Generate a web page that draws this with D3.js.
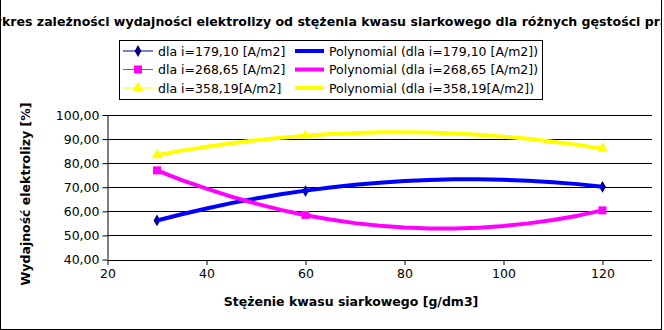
<!DOCTYPE html>
<html><head><meta charset="utf-8">
<script src="https://cdn.jsdelivr.net/npm/d3@7"></script>
<style>body{margin:0;background:#fff}svg{display:block}text{font-family:"DejaVu Sans",sans-serif}</style>
</head><body><svg id="c" width="664" height="330"></svg>
<script>
const titleText = "Wykres zależności wydajności elektrolizy od stężenia kwasu siarkowego dla różnych gęstości prądu";
const xTitle = "Stężenie kwasu siarkowego [g/dm3]";
const yTitle = "Wydajność elektrolizy [%]";
const xTicks = [20, 40, 60, 80, 100, 120];
const yTicks = [40, 50, 60, 70, 80, 90, 100];
const xValues = [30, 60, 120];
const s179 = [56.2, 68.4, 70.2];
const s268 = [77.0, 58.5, 60.4];
const s358 = [83.3, 91.4, 86.1];
const trendX = [30,35,40,45,50,55,60,65,70,75,80,85,90,95,100,105,110,115,120];
const t179 = [56.2,58.8,61.2,63.4,65.3,67.1,68.6,69.9,71.0,71.9,72.6,73.0,73.3,73.3,73.1,72.7,72.1,71.3,70.2];
const t268 = [77.0,73.0,69.4,66.1,63.2,60.6,58.4,56.6,55.1,54.0,53.3,52.9,52.9,53.2,53.9,55.0,56.4,58.2,60.4];
const t358 = [83.3,85.2,86.8,88.3,89.5,90.6,91.4,92.1,92.5,92.8,92.8,92.7,92.3,91.8,91.0,90.1,88.9,87.6,86.0];
const seriesNames = ["dla i=179,10 [A/m2]", "dla i=268,65 [A/m2]", "dla i=358,19[A/m2]"];

const svg = d3.select("#c");
const x = d3.scaleLinear().domain([20, 130]).range([107.5, 652]);
const y = d3.scaleLinear().domain([40, 100]).range([259.5, 115]);

// border
svg.append("rect").attr("x",0.5).attr("y",-2).attr("width",661).attr("height",331.5)
  .attr("fill","none").attr("stroke","#000");

// title (clipped by the chart frame, as in the original)
svg.append("clipPath").attr("id","tc").append("rect").attr("x",1).attr("y",0).attr("width",660).attr("height",60);
const title = svg.append("text").attr("clip-path","url(#tc)").attr("x",0).attr("y",26)
  .attr("font-weight","bold").attr("font-size","12.5px").text(titleText);
{
  const node = title.node();
  const startIdx = 2; // visible part starts at "kres"
  const endIdx = titleText.indexOf("prądu") + 2; // visible part ends after "pr"
  const pre = node.getSubStringLength(0, startIdx);
  const mid = node.getSubStringLength(startIdx, endIdx - startIdx);
  const k = 659 / mid;
  title.attr("font-size", (12.5 * k) + "px").attr("x", 2 - pre * k);
}

// grid
svg.append("g").selectAll("line").data(yTicks.slice(1)).join("line")
  .attr("x1",x(20)).attr("x2",x(130)).attr("y1",d=>Math.round(y(d))+0.5).attr("y2",d=>Math.round(y(d))+0.5)
  .attr("stroke","#000");

// axes
const fmt = d => d3.format(".2f")(d).replace(".", ",");
const ya = svg.append("g").attr("transform",`translate(${x(20)},0)`)
  .call(d3.axisLeft(y).tickValues(yTicks).tickFormat(fmt).tickSize(5).tickPadding(3));
const xa = svg.append("g").attr("transform",`translate(0,${Math.round(y(40))})`)
  .call(d3.axisBottom(x).tickValues(xTicks).tickFormat(d3.format("d")).tickSize(5).tickPadding(4));
[ya, xa].forEach(g => {
  g.select(".domain").attr("stroke","#000");
  g.selectAll(".tick line").attr("stroke","#000");
  g.selectAll("text").attr("font-size","12.5px").attr("fill","#000").attr("font-family","DejaVu Sans");
});
xa.select(".domain").attr("d", `M${x(20)},0.5H${x(130)}`);
ya.select(".domain").attr("d", `M0.5,${y(40)}V${y(100)}`);

// axis titles
svg.append("text").attr("x",351).attr("y",306).attr("text-anchor","middle")
  .attr("font-weight","bold").attr("font-size","12.5px").text(xTitle);
svg.append("text").attr("transform","translate(30,194) rotate(-90)").attr("text-anchor","middle")
  .attr("font-weight","bold").attr("font-size","12.5px").text(yTitle);

// markers
const series = [
  {vals:s179, trend:t179, mc:"#000080", tc:"#0000ff", sym:d3.symbolDiamond, size:40},
  {vals:s268, trend:t268, mc:"#ff00ff", tc:"#ff00ff", sym:d3.symbolSquare, size:64},
  {vals:s358, trend:t358, mc:"#ffff00", tc:"#ffff00", sym:d3.symbolTriangle, size:50}
];
series.forEach(s => {
  svg.append("g").selectAll("path").data(s.vals).join("path")
    .attr("transform",(d,i)=>`translate(${x(xValues[i])},${y(d)})`)
    .attr("d", d3.symbol().type(s.sym).size(s.size)).attr("fill",s.mc).attr("stroke","none");
});
const line = d3.line().x((d,i)=>x(trendX[i])).y(d=>y(d));
series.forEach(s => {
  svg.append("path").datum(s.trend).attr("d",line).attr("fill","none")
    .attr("stroke",s.tc).attr("stroke-width",4).attr("stroke-linejoin","round");
});

// legend
const lg = svg.append("g");
lg.append("rect").attr("x",119.5).attr("y",40.5).attr("width",423).attr("height",59)
  .attr("fill","#fff").attr("stroke","#000");
const rows = [51, 69.5, 88];
series.forEach((s,i) => {
  const ry = rows[i];
  lg.append("line").attr("x1",123).attr("x2",153).attr("y1",ry).attr("y2",ry).attr("stroke",s.mc).attr("stroke-width",1);
  lg.append("path").attr("transform",`translate(138,${ry})`).attr("d",d3.symbol().type(s.sym).size(s.size)).attr("fill",s.mc);
  lg.append("text").attr("x",158).attr("y",ry+4.5).attr("font-size","12.5px").text(seriesNames[i]);
  lg.append("line").attr("x1",295).attr("x2",324).attr("y1",ry).attr("y2",ry).attr("stroke",s.tc).attr("stroke-width",4);
  lg.append("text").attr("x",329).attr("y",ry+4.5).attr("font-size","12.5px").text("Polynomial (" + seriesNames[i] + ")");
});
</script></body></html>
